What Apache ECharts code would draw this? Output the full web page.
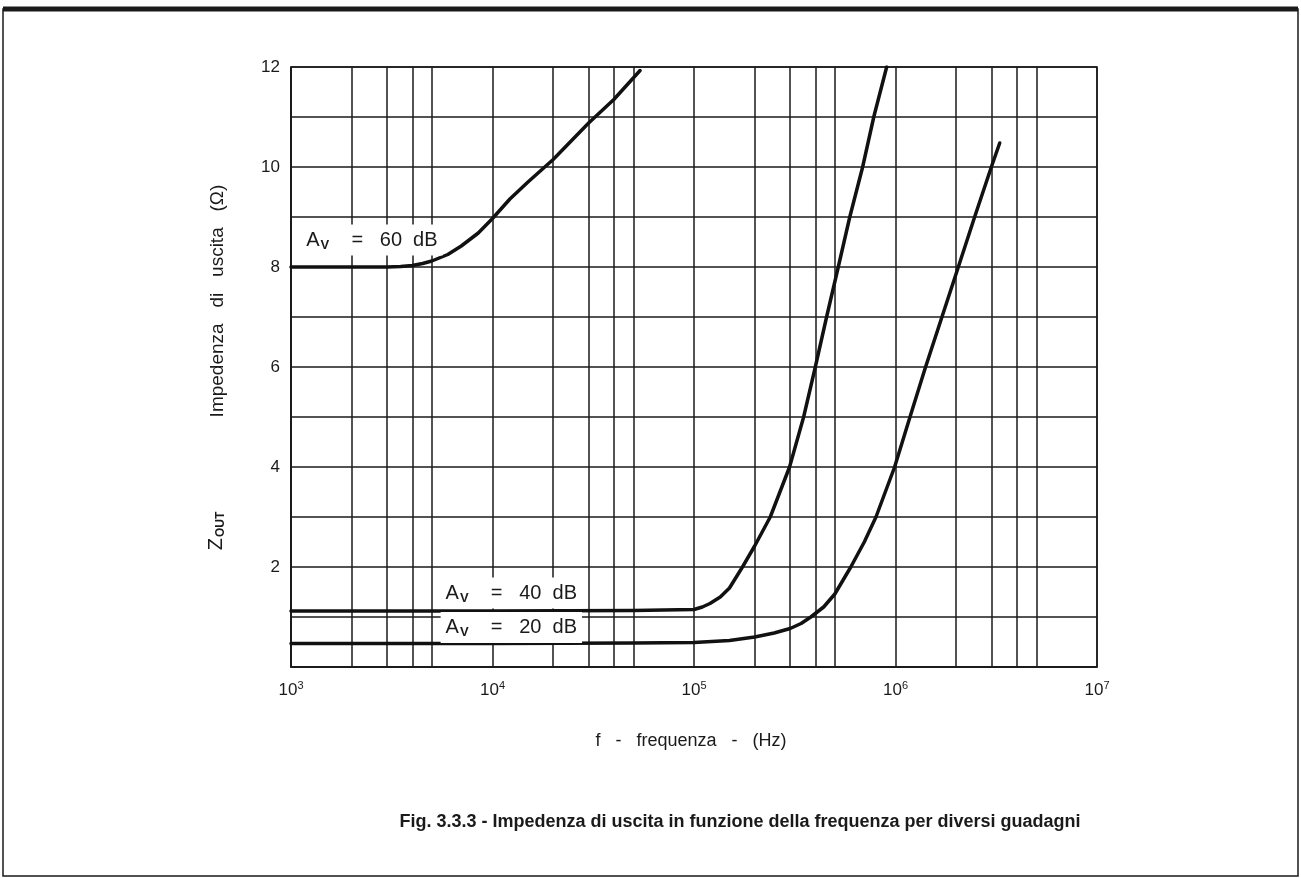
<!DOCTYPE html>
<html>
<head>
<meta charset="utf-8">
<style>
  html, body { margin: 0; padding: 0; background: #fff; }
  #chart { width: 1301px; height: 878px; }
</style>
<script src="https://cdn.jsdelivr.net/npm/echarts@6/dist/echarts.min.js"></script>
</head>
<body>
<div id="chart"></div>
<script>
// frequenza (Hz) e impedenza (ohm)
var freq60 = [1e3, 3e3, 3.5e3, 4e3, 4.5e3, 5e3, 6e3, 7e3, 8.5e3, 1e4, 1.22e4, 1.5e4, 2e4, 3e4, 4e4, 5.4e4];
var z60 = [8.0, 8.0, 8.01, 8.03, 8.07, 8.12, 8.25, 8.42, 8.68, 8.97, 9.36, 9.7, 10.15, 10.88, 11.35, 11.93];

var freq40 = [1e3, 1e4, 5e4, 1e5, 1.1e5, 1.2e5, 1.35e5, 1.5e5, 1.74e5, 2e5, 2.39e5, 2.98e5, 3.5e5, 4e5, 4.55e5, 5.2e5, 5.93e5, 6.87e5, 7.8e5, 9.04e5];
var z40 = [1.12, 1.12, 1.13, 1.15, 1.2, 1.27, 1.4, 1.58, 2.0, 2.42, 3.0, 4.0, 5.0, 6.0, 7.0, 8.0, 9.0, 10.0, 11.0, 12.0];

var freq20 = [1e3, 1e4, 5e4, 1e5, 1.5e5, 2e5, 2.5e5, 3e5, 3.4e5, 3.8e5, 4.4e5, 5e5, 6e5, 7e5, 8e5, 9.9e5, 1.18e6, 1.41e6, 1.7e6, 2.05e6, 2.47e6, 2.99e6, 3.29e6];
var z20 = [0.47, 0.47, 0.48, 0.49, 0.53, 0.6, 0.68, 0.77, 0.87, 1.0, 1.2, 1.46, 2.0, 2.5, 3.0, 4.0, 5.0, 6.0, 7.0, 8.0, 9.0, 10.0, 10.48];

// linee di griglia secondarie (2,3,4,5 per decade)
var decades = [1e3, 1e4, 1e5, 1e6];
var minorMult = [2, 3, 4, 5];
var yLabels = [2, 4, 6, 8, 10, 12];

var FONT = "'Liberation Sans', Arial, sans-serif";
var INK = '#1a1a1a';

function pairs(xs, ys) {
  var out = [];
  for (var i = 0; i < xs.length; i++) out.push([xs[i], ys[i]]);
  return out;
}

var minorLines = [];
for (var i = 0; i < decades.length; i++) {
  for (var j = 0; j < minorMult.length; j++) {
    minorLines.push({ xAxis: decades[i] * minorMult[j] });
  }
}

function gainLabel(x, y, db) {
  return {
    coord: [x, y],
    symbol: 'rect',
    symbolSize: 0,
    label: {
      show: true,
      position: 'inside',
      backgroundColor: '#fff',
      padding: [4, 5, 4, 5],
      formatter: '{a|A}{v|V}{a|    =   ' + db + '  dB}',
      rich: {
        a: { fontFamily: FONT, fontSize: 20, color: INK },
        v: { fontFamily: FONT, fontSize: 13, fontWeight: 'bold', color: INK, padding: [10, 0, 0, 1] }
      }
    }
  };
}

function curve(name, xs, ys, extra) {
  var s = {
    name: name,
    type: 'line',
    data: pairs(xs, ys),
    showSymbol: false,
    smooth: false,
    lineStyle: { color: '#111', width: 3.5, cap: 'round', join: 'round' },
    z: 4,
    silent: true
  };
  for (var k in extra) s[k] = extra[k];
  return s;
}

var chart = echarts.init(document.getElementById('chart'));

var option = {
  backgroundColor: '#fff',
  animation: false,
  grid: {
    left: 291, top: 67, width: 806, height: 600,
    show: true, borderColor: INK, borderWidth: 1.5
  },
  xAxis: {
    type: 'log',
    logBase: 10,
    min: 1e3,
    max: 1e7,
    axisLine: { show: true, lineStyle: { color: INK, width: 1.5 } },
    axisTick: { show: false },
    splitLine: { show: true, lineStyle: { color: INK, width: 1.5 } },
    axisLabel: {
      margin: 13,
      formatter: function (v) {
        return '{b|10}{s|' + Math.round(Math.log10(v)) + '}';
      },
      rich: {
        b: { fontFamily: FONT, fontSize: 17, color: INK },
        s: { fontFamily: FONT, fontSize: 11, color: INK, padding: [0, 0, 10, 0] }
      }
    }
  },
  yAxis: {
    type: 'value',
    min: 0,
    max: 12,
    interval: 1,
    axisLine: { show: true, lineStyle: { color: INK, width: 1.5 } },
    axisTick: { show: false },
    splitLine: { show: true, lineStyle: { color: INK, width: 1.5 } },
    axisLabel: {
      margin: 11,
      fontFamily: FONT,
      fontSize: 17,
      color: INK,
      formatter: function (v) {
        return yLabels.indexOf(v) >= 0 ? String(v) : '';
      }
    }
  },
  series: [
    curve('60 dB', freq60, z60, {
      markLine: {
        silent: true,
        symbol: ['none', 'none'],
        label: { show: false },
        lineStyle: { color: INK, width: 1.5, type: 'solid' },
        emphasis: { disabled: true },
        data: minorLines,
        z: 1
      },
      markPoint: { silent: true, data: [gainLabel(2.52e3, 8.54, 60)] }
    }),
    curve('40 dB', freq40, z40, {
      markPoint: { silent: true, data: [gainLabel(1.24e4, 1.48, 40)] }
    }),
    curve('20 dB', freq20, z20, {
      markPoint: { silent: true, data: [gainLabel(1.24e4, 0.79, 20)] }
    })
  ],
  graphic: [
    {
      type: 'rect',
      shape: { x: 3, y: 9, width: 1295, height: 867 },
      style: { fill: 'none', stroke: INK, lineWidth: 1.5 },
      silent: true
    },
    {
      type: 'line',
      shape: { x1: 3, y1: 9, x2: 1298, y2: 9 },
      style: { stroke: INK, lineWidth: 5 },
      silent: true
    },
    {
      type: 'text',
      x: 218, y: 301,
      rotation: Math.PI / 2,
      style: {
        text: 'Impedenza   di   uscita   (Ω)',
        fontFamily: FONT, fontSize: 19, fill: INK,
        align: 'center', verticalAlign: 'middle'
      },
      silent: true
    },
    {
      type: 'text',
      x: 216, y: 531,
      rotation: Math.PI / 2,
      style: {
        text: '{z|Z}{o|OUT}',
        rich: {
          z: { fontFamily: FONT, fontSize: 20, fill: INK, color: INK },
          o: { fontFamily: FONT, fontSize: 12, fontWeight: 'bold', fill: INK, color: INK, padding: [9, 0, 0, 1] }
        },
        align: 'center', verticalAlign: 'middle'
      },
      silent: true
    },
    {
      type: 'text',
      x: 691, y: 741,
      style: {
        text: 'f   -   frequenza   -   (Hz)',
        fontFamily: FONT, fontSize: 18, fill: INK,
        align: 'center', verticalAlign: 'middle'
      },
      silent: true
    },
    {
      type: 'text',
      x: 740, y: 822,
      style: {
        text: 'Fig. 3.3.3 - Impedenza di uscita in funzione della frequenza per diversi guadagni',
        fontFamily: FONT, fontSize: 18, fontWeight: 'bold', fill: INK,
        align: 'center', verticalAlign: 'middle'
      },
      silent: true
    }
  ]
};

chart.setOption(option);
</script>
</body>
</html>
